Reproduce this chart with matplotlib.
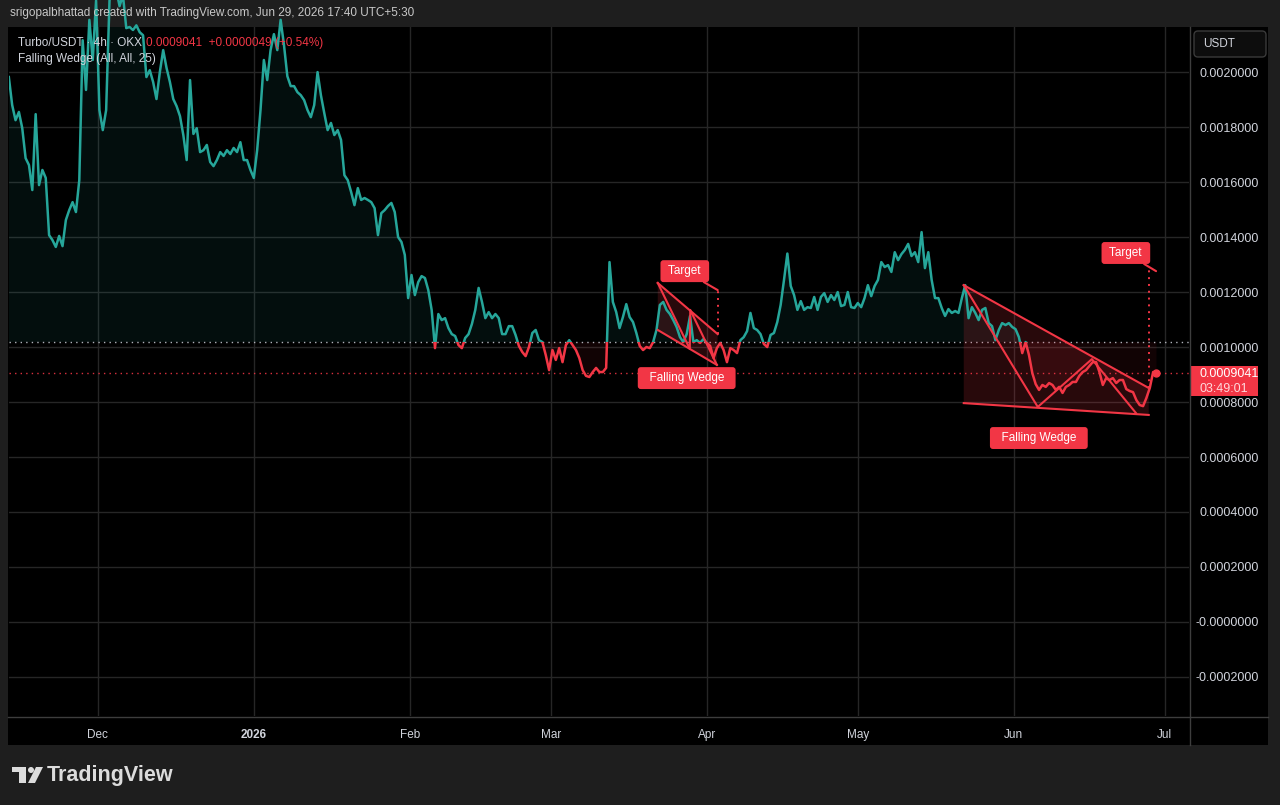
import numpy as np
import pandas as pd
import matplotlib
matplotlib.use("Agg")
import matplotlib.pyplot as plt
import matplotlib.dates as mdates
from matplotlib.patches import Rectangle, FancyBboxPatch, Polygon, Circle

plt.rcParams['font.family'] = ['Liberation Sans', 'DejaVu Sans']

TEAL = '#26a69a'
RED = '#f23645'
TXT = '#d1d4dc'
UNIT = 1e-4  # prices below are written in units of 1e-4 USDT

# Turbo/USDT closes, every 16 hours
price_e4 = [
    19.82, 18.80, 18.25, 18.55, 17.96, 16.87, 16.62, 15.71, 18.47, 15.89,
    16.44, 16.15, 14.07, 13.89, 13.64, 14.04, 13.67, 14.62, 14.98, 15.27,
    14.91, 16.07, 21.16, 19.35, 21.90, 20.44, 22.60, 18.62, 17.89, 18.62,
    22.60, 23.30, 23.00, 22.40, 22.80, 21.60, 21.64, 21.53, 21.70, 21.45,
    21.34, 19.82, 20.07, 19.64, 19.02, 20.00, 20.80, 20.15, 19.64, 19.02,
    18.76, 18.40, 17.71, 16.80, 19.71, 17.75, 17.96, 17.09, 17.16, 17.35,
    16.73, 16.58, 16.80, 17.09, 16.95, 17.16, 17.02, 17.24, 17.09, 17.45,
    16.80, 16.80, 16.44, 16.15, 17.16, 18.62, 20.44, 19.71, 20.80, 21.38,
    20.80, 21.90, 20.98, 19.85, 19.49, 19.49, 19.27, 19.16, 18.98, 18.62,
    18.36, 18.80, 20.00, 19.16, 18.51, 17.89, 18.15, 17.71, 17.89, 17.53,
    16.25, 16.07, 15.64, 15.16, 15.78, 15.35, 15.42, 15.35, 15.27, 15.05,
    14.07, 14.87, 14.98, 15.13, 15.24, 14.91, 14.00, 13.82, 13.35, 11.78,
    12.62, 11.89, 12.36, 12.58, 12.51, 12.07, 11.35, 9.96, 11.20, 10.98,
    11.05, 10.69, 10.47, 10.40, 10.07, 9.96, 10.33, 10.47, 10.84, 11.35,
    12.15, 11.64, 11.05, 11.27, 11.05, 11.20, 11.05, 10.47, 10.47, 10.76,
    10.76, 10.44, 10.04, 9.82, 9.67, 10.00, 10.51, 10.62, 10.25, 10.18,
    9.71, 9.16, 9.89, 9.53, 9.96, 9.45, 10.07, 10.25, 10.07, 9.89,
    9.60, 9.16, 8.95, 8.91, 9.09, 9.24, 9.09, 9.09, 9.24, 13.09,
    11.64, 11.27, 10.69, 11.09, 11.56, 11.09, 10.91, 10.51, 10.04, 9.89,
    10.00, 9.96, 10.18, 10.62, 11.53, 11.64, 11.35, 11.20, 10.98, 10.73,
    10.36, 10.18, 10.47, 11.13, 10.18, 10.25, 10.15, 10.29, 10.15, 10.04,
    9.60, 9.96, 10.15, 9.89, 9.45, 9.96, 9.89, 9.78, 10.25, 10.36,
    10.58, 11.24, 10.69, 10.62, 10.47, 10.11, 10.00, 10.44, 10.51, 10.91,
    11.53, 12.44, 13.40, 12.22, 11.89, 11.35, 11.67, 11.35, 11.45, 11.42,
    11.82, 11.35, 11.82, 11.96, 11.64, 11.89, 11.71, 12.00, 11.49, 11.53,
    12.00, 11.45, 11.42, 11.60, 11.45, 11.78, 12.25, 11.85, 12.22, 12.44,
    13.09, 12.91, 12.98, 12.73, 13.45, 13.16, 13.38, 13.53, 13.75, 13.31,
    13.45, 13.09, 14.18, 12.87, 13.45, 12.44, 11.78, 11.78, 11.42, 11.13,
    11.38, 11.24, 11.31, 11.24, 11.78, 12.25, 11.05, 11.45, 11.24, 10.98,
    11.35, 11.42, 10.87, 10.76, 10.25, 10.62, 10.87, 10.80, 10.87, 10.73,
    10.65, 10.36, 9.78, 10.18, 9.71, 9.05, 8.65, 8.44, 8.62, 8.55,
    8.69, 8.62, 8.44, 8.55, 8.33, 8.55, 8.62, 8.73, 8.73, 8.95,
    9.09, 9.16, 9.31, 9.45, 9.45, 9.09, 8.62, 8.87, 8.80, 8.87,
    8.69, 8.80, 8.80, 8.47, 8.40, 8.36, 8.07, 7.89, 7.85, 8.15,
    8.51, 9.09, 9.041,
]
dates = pd.date_range("2025-11-13 08:00", periods=len(price_e4), freq="16h")
price = np.array(price_e4) * UNIT
baseline = 10.18 * UNIT
last_price = 0.0009041

month_ticks = ["2025-12-01", "2026-01-01", "2026-02-01", "2026-03-01",
               "2026-04-01", "2026-05-01", "2026-06-01", "2026-07-01"]
month_labels = ["Dec", "2026", "Feb", "Mar", "Apr", "May", "Jun", "Jul"]
price_ticks = [-2, 0, 2, 4, 6, 8, 10, 12, 14, 16, 18, 20]
price_tick_labels = ["-0.0002000", "-0.0000000", "0.0002000", "0.0004000",
                     "0.0006000", "0.0008000", "0.0010000", "0.0012000",
                     "0.0014000", "0.0016000", "0.0018000", "0.0020000"]

# falling wedge pivots (time, price e-4)
small_top = [("2026-03-22 06:00", 12.33), ("2026-04-03 04:00", 10.47)]
small_low = [("2026-03-22 06:00", 10.62), ("2026-04-03 00:00", 9.35)]
small_zig = [("2026-03-22 06:00", 12.33), ("2026-03-28 15:00", 9.93),
             ("2026-03-28 17:00", 11.35), ("2026-04-03 00:00", 9.35)]
small_target = [("2026-04-03 04:00", 10.47), ("2026-04-03 04:00", 12.07)]

big_top = [("2026-05-22 01:00", 12.25), ("2026-06-27 19:00", 8.51)]
big_low = [("2026-05-22 01:00", 7.96), ("2026-06-27 19:00", 7.53)]
big_zig = [("2026-05-22 01:00", 12.25), ("2026-06-05 18:00", 7.82),
           ("2026-06-16 12:00", 9.56), ("2026-06-25 06:00", 7.60)]
big_target = [("2026-06-27 19:00", 8.51), ("2026-06-27 19:00", 12.87)]

# annotation anchors (time, price e-4)
target_labels = [(("2026-03-27 15:00", 12.76), ("2026-04-03 04:00", 12.07)),
                 (("2026-06-23 06:00", 13.42), ("2026-06-29 06:00", 12.76))]
wedge_labels = [("2026-03-28 00:00", 8.87), ("2026-06-05 23:00", 6.69)]


def tx(items):
    return mdates.date2num(pd.to_datetime([t for t, _ in items]))


def py(items):
    return np.array([p for _, p in items]) * UNIT


W, H = 1280, 805
fig = plt.figure(figsize=(12.8, 8.05), dpi=100, facecolor='#1e1e1e')

bg = fig.add_axes([0, 0, 1, 1], zorder=0)
bg.set_xlim(0, W); bg.set_ylim(H, 0); bg.axis('off')
bg.add_patch(Rectangle((8, 27), 1260, 718, fc='black', ec='none'))

ax = fig.add_axes([9 / W, 1 - 716 / H, 1180 / W, 689 / H], zorder=1)
ax.set_facecolor('black')
x = mdates.date2num(dates)
x0 = mdates.date2num(pd.Timestamp("2025-11-13 08:50"))
x1 = mdates.date2num(pd.Timestamp("2026-07-05 19:00"))
ax.set_xlim(x0, x1)
ax.set_ylim(-3.42 * UNIT, 21.64 * UNIT)

ax.fill_between(x, price, baseline, where=price >= baseline, interpolate=True,
                color=TEAL, alpha=0.09, lw=0, zorder=2)
ax.fill_between(x, price, baseline, where=price < baseline, interpolate=True,
                color=RED, alpha=0.07, lw=0, zorder=2)

ln_up, = ax.plot(x, price, color=TEAL, lw=1.8, zorder=4)
ln_up.set_clip_path(Rectangle((x0, baseline), x1 - x0, 1, transform=ax.transData))
ln_dn, = ax.plot(x, price, color=RED, lw=1.8, zorder=4)
ln_dn.set_clip_path(Rectangle((x0, baseline - 1), x1 - x0, 1, transform=ax.transData))
ax.plot(x[-1], price[-1], 'o', color=RED, ms=5, zorder=6)

ax.axhline(baseline, color='#b0b3bb', lw=1, ls=(0, (1, 3)), zorder=3)
ax.axhline(last_price, color=RED, lw=1, ls=(0, (1, 3)), alpha=0.9, zorder=3)

for top, low, zig, tgt in [(small_top, small_low, small_zig, small_target),
                           (big_top, big_low, big_zig, big_target)]:
    px = [tx(top)[0], tx(top)[1], tx(low)[1], tx(low)[0]]
    pp = [py(top)[0], py(top)[1], py(low)[1], py(low)[0]]
    ax.fill(px, pp, color=RED, alpha=0.17, lw=0, zorder=3)
    ax.plot(tx(top), py(top), color=RED, lw=1.5, zorder=5)
    ax.plot(tx(low), py(low), color=RED, lw=1.5, zorder=5)
    ax.plot(tx(zig), py(zig), color=RED, lw=1.5, zorder=5)
    ax.plot(tx(tgt), py(tgt), color=RED, lw=1.4, ls=(0, (1, 2.5)), zorder=5)

box = dict(boxstyle='round,pad=0.42,rounding_size=0.25', fc=RED, ec='none')
for (lab, tip) in target_labels:
    lx = tx([lab])[0]; lp = py([lab])[0]
    ax.annotate(" Target ", xy=(tx([tip])[0], py([tip])[0]), xytext=(lx, lp),
                ha='center', va='center', color='white', fontsize=8.5, bbox=box,
                arrowprops=dict(arrowstyle='-', color=RED, lw=1.5, shrinkA=0, shrinkB=0),
                zorder=7)
for lab in wedge_labels:
    ax.text(tx([lab])[0], py([lab])[0], "  Falling Wedge  ", ha='center', va='center',
            color='white', fontsize=8.5, bbox=box, zorder=7)

ax.set_xticks(mdates.date2num(pd.to_datetime(month_ticks)))
ax.set_xticklabels(month_labels)
ax.set_yticks(np.array(price_ticks) * UNIT)
ax.set_yticklabels(price_tick_labels)
ax.yaxis.tick_right()
ax.tick_params(axis='x', length=0, pad=9, colors=TXT, labelsize=8.5)
ax.tick_params(axis='y', length=0, pad=50, colors=TXT, labelsize=9)
for lb in ax.get_yticklabels():
    lb.set_horizontalalignment('right')
ax.get_xticklabels()[1].set_fontweight('bold')
ax.grid(True, color='#262626', lw=1)
ax.set_axisbelow(True)
for s in ax.spines.values():
    s.set_visible(False)

# chrome overlay in pixel coordinates
top = fig.add_axes([0, 0, 1, 1], zorder=5)
top.set_xlim(0, W); top.set_ylim(H, 0); top.axis('off')
top.patch.set_alpha(0)
top.plot([8, 1268], [716.5, 716.5], color='#3d3d3d', lw=1)
top.plot([1189.5, 1189.5], [27, 745], color='#3d3d3d', lw=1)
top.text(10, 13, "srigopalbhattad created with TradingView.com, Jun 29, 2026 17:40 UTC+5:30",
         color='#c8c8c8', fontsize=8.5, va='center')
top.text(18, 43, "Turbo/USDT \u00b7 4h \u00b7 OKX", color=TXT, fontsize=8.5, va='center')
top.text(146, 43, "0.0009041  +0.0000049 (+0.54%)", color=RED, fontsize=8.5, va='center')
top.text(18, 59, "Falling Wedge (All, All, 25)", color=TXT, fontsize=8.5, va='center')

top.add_patch(FancyBboxPatch((1194, 31), 72, 26, boxstyle='round,pad=0,rounding_size=4',
                             fc='#0d0d0d', ec='#3a3a3a', lw=1))
top.text(1203, 44, "USDT", color=TXT, fontsize=8.5, va='center')

top.add_patch(Rectangle((1190, 366), 68, 30, fc=RED, ec='none'))
top.text(1199, 374, "0.0009041", color='white', fontsize=9, va='center')
top.text(1199, 389, "03:49:01", color='#ffd9dc', fontsize=9, va='center')

# TradingView logo
logo = '#dcdcdc'
top.add_patch(Rectangle((12, 767), 14, 5, fc=logo, ec='none'))
top.add_patch(Rectangle((19, 767), 7, 16, fc=logo, ec='none'))
top.add_patch(Circle((31, 770), 3, fc=logo, ec='none'))
top.add_patch(Polygon([(36, 767), (43, 767), (35, 783), (28, 783)], fc=logo, ec='none'))
top.text(47, 775, "TradingView", color=logo, fontsize=15.5, fontweight='bold', va='center')

fig.savefig("out.png", dpi=100, facecolor=fig.get_facecolor())
